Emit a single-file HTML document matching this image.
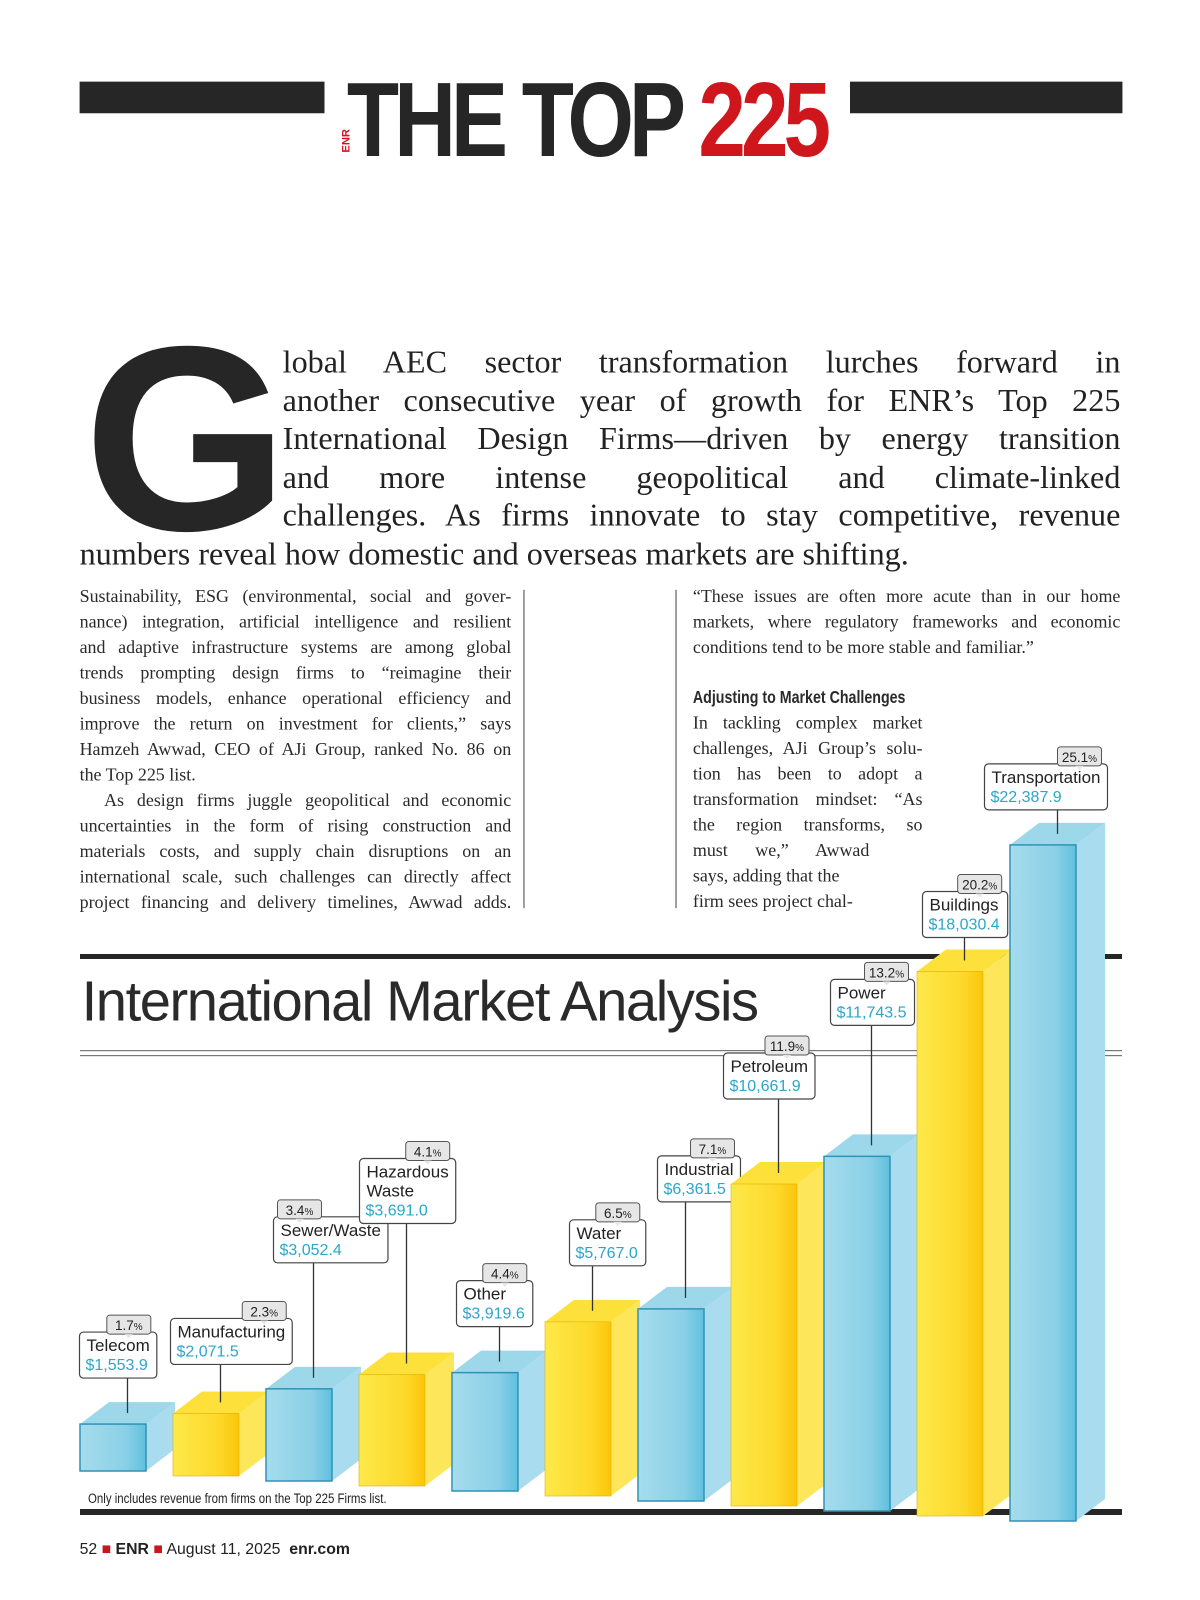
<!DOCTYPE html>
<html><head><meta charset="utf-8"><style>
*{margin:0;padding:0;box-sizing:border-box}
body{width:1200px;height:1600px;background:#fff;position:relative;overflow:hidden;font-family:"Liberation Serif",serif;color:#222}
#wrap{position:absolute;left:0;top:0;width:1176px;height:1568px;transform:scale(1.0204);transform-origin:0 0}
.abs{position:absolute}
.bar{background:#262626}
.ln{white-space:nowrap;text-align:justify;text-align-last:justify;height:25px;line-height:25px}
.ln.l{text-align-last:left}
.lead .ln{height:37.5px;line-height:37.5px;font-size:31.5px}
.col{font-size:17.6px;color:#2a2a2a}
</style></head><body>
<div id="wrap">
<div class="abs bar" style="left:78px;top:80px;width:240px;height:31px"></div>
<div class="abs bar" style="left:833px;top:80px;width:267px;height:31px"></div>
<div class="abs" style="left:328px;top:132px;transform:rotate(-90deg);font:bold 11px 'Liberation Sans',sans-serif;color:#d0161d">ENR</div>
<div class="abs" style="left:340px;top:66px;font:bold 104px/1 'Liberation Sans',sans-serif;letter-spacing:-6px;transform:scaleX(0.805);transform-origin:left top;white-space:nowrap;color:#262626">THE TOP <span style="color:#d0161d">225</span></div>

<div class="abs" style="left:82px;top:301px;font:bold 258px/1 'Liberation Sans',sans-serif;color:#262626">G</div>
<div class="abs lead" style="left:277px;top:336px;width:821px">
<div class="ln">lobal AEC sector transformation lurches forward in</div>
<div class="ln">another consecutive year of growth for ENR’s Top 225</div>
<div class="ln">International Design Firms—driven by energy transition</div>
<div class="ln">and more intense geopolitical and climate-linked</div>
<div class="ln">challenges. As firms innovate to stay competitive, revenue</div>
<div class="ln l" style="margin-left:-199px">numbers reveal how domestic and overseas markets are shifting.</div>
</div>

<div class="abs col" style="left:78px;top:572px;width:423px">
<div class="ln">Sustainability, ESG (environmental, social and gover-</div>
<div class="ln">nance) integration, artificial intelligence and resilient</div>
<div class="ln">and adaptive infrastructure systems are among global</div>
<div class="ln">trends prompting design firms to “reimagine their</div>
<div class="ln">business models, enhance operational efficiency and</div>
<div class="ln">improve the return on investment for clients,” says</div>
<div class="ln">Hamzeh Awwad, CEO of AJi Group, ranked No. 86 on</div>
<div class="ln l">the Top 225 list.</div>
<div class="ln" style="padding-left:24px">As design firms juggle geopolitical and economic</div>
<div class="ln">uncertainties in the form of rising construction and</div>
<div class="ln">materials costs, and supply chain disruptions on an</div>
<div class="ln">international scale, such challenges can directly affect</div>
<div class="ln">project financing and delivery timelines, Awwad adds.</div>
</div>
<div class="abs" style="left:513px;top:578px;width:1px;height:312px;background:#444"></div>
<div class="abs" style="left:662px;top:578px;width:1px;height:312px;background:#444"></div>
<div class="abs col" style="left:679px;top:572px;width:419px">
<div class="ln">“These issues are often more acute than in our home</div>
<div class="ln">markets, where regulatory frameworks and economic</div>
<div class="ln l">conditions tend to be more stable and familiar.”</div>
<div class="ln l" style="margin-top:24px;font:bold 17px/25px 'Liberation Sans',sans-serif;transform:scaleX(0.82);transform-origin:left">Adjusting to Market Challenges</div>
<div class="ln" style="width:225px">In tackling complex market</div>
<div class="ln" style="width:225px">challenges, AJi Group’s solu-</div>
<div class="ln" style="width:225px">tion has been to adopt a</div>
<div class="ln" style="width:225px">transformation mindset: “As</div>
<div class="ln" style="width:225px">the region transforms, so</div>
<div class="ln" style="width:173px">must we,” Awwad</div>
<div class="ln l">says, adding that the</div>
<div class="ln l">firm sees project chal-</div>
</div>

<div class="abs" style="left:80px;top:954px;font:55px/1 'Liberation Sans',sans-serif;letter-spacing:-1.4px;color:#2a2a2a;white-space:nowrap">International Market Analysis</div>
<div class="abs" style="left:78px;top:1510px;font:15.5px/18px 'Liberation Sans',sans-serif;color:#222;white-space:nowrap">52 <span style="color:#c8161d">■</span> <b>ENR</b> <span style="color:#c8161d">■</span> August 11, 2025 &nbsp;<b>enr.com</b></div>
</div>
<svg class="abs" id="chart" style="left:0;top:0" width="1200" height="1600" xmlns="http://www.w3.org/2000/svg">
<defs>
<linearGradient id="gb" x1="0" x2="1"><stop offset="0" stop-color="#a6dced"/><stop offset="0.7" stop-color="#8ad0e6"/><stop offset="1" stop-color="#5fc0de"/></linearGradient>
<linearGradient id="gy" x1="0" x2="1"><stop offset="0" stop-color="#fde94a"/><stop offset="0.7" stop-color="#fdd82a"/><stop offset="1" stop-color="#fbc50a"/></linearGradient>
</defs>
<rect x="80" y="954" width="1042" height="5" fill="#262626"/>
<rect x="80" y="1050" width="1042" height="1.2" fill="#777"/>
<rect x="80" y="1055" width="1042" height="1.2" fill="#777"/>
<rect x="80" y="1509" width="1042" height="6" fill="#262626"/>
<text x="88" y="1503" font-family="Liberation Sans, sans-serif" font-size="13.5" fill="#222" transform="translate(88 0) scale(0.85 1) translate(-88 0)">Only includes revenue from firms on the Top 225 Firms list.</text>
<g id="bars"></g>
</svg>
<script>
const categories=["Telecom","Manufacturing","Sewer/Waste","Hazardous Waste","Other","Water","Industrial","Petroleum","Power","Buildings","Transportation"];
const revenues=[1553.9,2071.5,3052.4,3691.0,3919.6,5767.0,6361.5,10661.9,11743.5,18030.4,22387.9];
const shares=[1.7,2.3,3.4,4.1,4.4,6.5,7.1,11.9,13.2,20.2,25.1];
const valueLabels=["$1,553.9","$2,071.5","$3,052.4","$3,691.0","$3,919.6","$5,767.0","$6,361.5","$10,661.9","$11,743.5","$18,030.4","$22,387.9"];
const labelShift=[48,50,40,47,43,23,28,55,41,42,73];
const labelLift=[35,38,115,140,35,45,96,74,120,23,24];
const tagLeft=[false,false,true,false,false,false,false,false,false,false,false];
const NS="http://www.w3.org/2000/svg";
const g=document.getElementById('bars');
const W=66,DX=29,DY=22;
function xPos(i){return 80+i*93;}
function yBase(i){return 1471+5*i;}
function yTop(i,v){return yBase(i)-v*0.0302;}
function mk(tag,attrs,parent){const e=document.createElementNS(NS,tag);for(const k in attrs)e.setAttribute(k,attrs[k]);(parent||g).appendChild(e);return e;}
categories.forEach((c,i)=>{
  const blue=i%2===0;
  const x=xPos(i),b=yBase(i),t=yTop(i,revenues[i]);
  const grp=mk('g',{});
  
  
  const side=blue?'#a9dcee':'#fde65a',top=blue?'#9dd7ea':'#fde03a',stroke=blue?'#2f93b5':'#e0b000';
  mk('polygon',{points:`${x+W},${t} ${x+W+DX},${t-DY} ${x+W+DX},${b-DY} ${x+W},${b}`,fill:side},grp);
  mk('polygon',{points:`${x},${t} ${x+DX},${t-DY} ${x+W+DX},${t-DY} ${x+W},${t}`,fill:top},grp);
  mk('rect',{x:x,y:t,width:W,height:b-t,fill:blue?'url(#gb)':'url(#gy)',stroke:stroke,'stroke-width':blue?1.5:0.6},grp);
  const lx=x+W/2+DX/2, ly=t-DY/2;
  const boxBottom=ly-labelLift[i];
  const lines=c==="Hazardous Waste"?["Hazardous","Waste"]:[c];
  const h=lines.length===2?65:46;
  const boxTop=boxBottom-h, boxLeft=lx-labelShift[i];
  const lab=mk('g',{});
  
  
  mk('line',{x1:lx,y1:ly,x2:lx,y2:boxBottom,stroke:'#333','stroke-width':1.3},lab);
  const box=mk('rect',{x:boxLeft,y:boxTop,width:80,height:h,rx:4,fill:'#fff',stroke:'#444','stroke-width':1.2},lab);
  let maxW=0;
  lines.forEach((s,k)=>{const tx=mk('text',{x:boxLeft+7,y:boxTop+19+k*19,'font-family':'Liberation Sans, sans-serif','font-size':17,fill:'#222'},lab);tx.textContent=s;maxW=Math.max(maxW,tx.getComputedTextLength());});
  const vt=mk('text',{x:boxLeft+6,y:boxTop+19+lines.length*19,'font-family':'Liberation Sans, sans-serif','font-size':16,fill:'#2ba6c9'},lab);
  vt.textContent=valueLabels[i];
  maxW=Math.max(maxW,vt.getComputedTextLength());
  const bw=maxW+14;box.setAttribute('width',bw);
  const pw=44,px=tagLeft[i]?boxLeft+4:boxLeft+bw-pw-6,py=boxTop-17;
  mk('rect',{x:px,y:py,width:pw,height:19,rx:3,fill:'#e6e6e6',stroke:'#555','stroke-width':1},lab);
  mk('polygon',{points:`${px+pw/2-4},${py+19} ${px+pw/2+4},${py+19} ${px+pw/2},${py+23}`,fill:'#e6e6e6'},lab);
  const pt=mk('text',{x:px+pw/2,y:py+15,'text-anchor':'middle','font-family':'Liberation Sans, sans-serif','font-size':13.5,fill:'#222'},lab);
  pt.textContent=shares[i];
  const ps=mk('tspan',{'font-size':10},pt);ps.textContent='%';
});
</script>
</body></html>
